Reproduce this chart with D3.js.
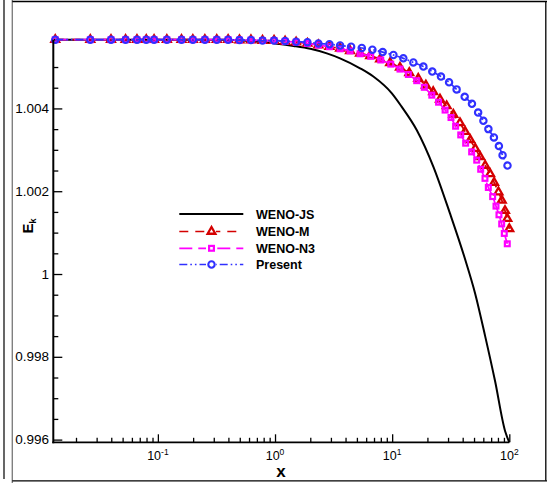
<!DOCTYPE html>
<html>
<head>
<meta charset="utf-8">
<script src="https://cdn.jsdelivr.net/npm/d3@7"></script>
<style>
  body { margin: 0; background: #fff; }
  svg { display: block; }
  text { font-family: "Liberation Sans", Arial, Helvetica, sans-serif; fill: #000; }
</style>
</head>
<body>
<svg id="chart" width="547" height="483"></svg>
<script>
// ---- data -------------------------------------------------------------
const seriesNames = ["WENO-JS", "WENO-M", "WENO-N3", "Present"];

// early output times shared by the three marked series
const earlyX = [0.0133, 0.0265, 0.0398, 0.053, 0.0663, 0.0796, 0.0928, 0.1193, 0.1591,
                0.1989, 0.2519, 0.3182, 0.3978, 0.4972, 0.6232, 0.7823, 0.9812];
const earlyE = [1.00566, 1.00566, 1.00566, 1.00566, 1.00566, 1.00566, 1.00566, 1.00566, 1.00566,
                1.00566, 1.00566, 1.00566, 1.00566, 1.00565, 1.00565, 1.00564, 1.00564];

const wenoJsX = [0.0128, 0.1, 0.3, 0.45, 0.6, 0.75, 1.0, 1.44, 2.0, 2.77, 3.59, 5.32, 6.91,
                 9.9, 12.0, 16.2, 22.5, 31.1, 41.7, 51.2, 62.2, 75.5, 92.0, 100];
const wenoJsE = [1.00566, 1.00566, 1.00566, 1.00565, 1.00563, 1.00560, 1.00557, 1.00551, 1.00544,
                 1.00533, 1.00521, 1.00497, 1.00477, 1.00437, 1.00405, 1.00348, 1.00259, 1.00147,
                 1.00038, 0.99952, 0.99850, 0.99742, 0.99621, 0.995935];

const wenoMX = [1.219, 1.514, 1.891, 2.346, 2.913, 3.594, 4.37, 5.32, 6.49, 7.89, 9.61, 11.66,
                14.0, 16.7, 19.4, 22.4, 25.6, 29.2, 33.3, 37.9, 41.9, 46.4, 51.2, 56.4, 62.2,
                68.6, 74.2, 80.8, 86.3, 91.9, 96.2, 100];
const wenoME = [1.00562, 1.00560, 1.00557, 1.00553, 1.00549, 1.00545, 1.00539, 1.00533, 1.00527,
                1.00519, 1.00510, 1.00499, 1.00486, 1.00472, 1.00456, 1.00440, 1.00422, 1.00406,
                1.00385, 1.00365, 1.00344, 1.00324, 1.00303, 1.00283, 1.00262, 1.00242, 1.00221,
                1.00198, 1.00178, 1.00153, 1.00134, 1.00109];

const wenoN3X = [1.219, 1.514, 1.891, 2.346, 2.913, 3.594, 4.37, 5.32, 6.56, 7.99, 9.73, 11.66,
                 13.75, 16.2, 18.8, 21.8, 24.9, 28.3, 31.8, 34.8, 38.5, 42.4, 47.7, 52.7, 57.0,
                 62.0, 66.2, 72.1, 77.0, 81.6, 86.1, 90.6, 96.1];
const wenoN3E = [1.00562, 1.00560, 1.00557, 1.00553, 1.00549, 1.00544, 1.00539, 1.00532, 1.00526,
                 1.00517, 1.00507, 1.00495, 1.00482, 1.00467, 1.00451, 1.00432, 1.00415, 1.00396,
                 1.00378, 1.00357, 1.00336, 1.00316, 1.00295, 1.00275, 1.00253, 1.00231, 1.00209,
                 1.00187, 1.00164, 1.00143, 1.00121, 1.00098, 1.00073];

const presentX = [1.219, 1.514, 1.891, 2.346, 2.913, 3.594, 4.463, 5.504, 6.78, 8.30, 10.25, 12.46,
                  15.17, 18.47, 22.0, 26.1, 30.6, 35.5, 41.6, 48.0, 54.2, 60.1, 66.3, 73.9, 81.5,
                  87.6, 96.5];
const presentE = [1.00563, 1.00561, 1.00560, 1.00557, 1.00555, 1.00552, 1.00549, 1.00546, 1.00542,
                  1.00536, 1.00529, 1.00521, 1.00511, 1.00501, 1.00489, 1.00477, 1.00463, 1.00446,
                  1.00428, 1.00411, 1.00390, 1.00370, 1.00350, 1.00330, 1.00309, 1.00287, 1.00262];

const xMajorTicks = [0.1, 1, 10, 100];
const xTickExponents = ["-1", "0", "1", "2"];
const yMajorTicks = [0.996, 0.998, 1.0, 1.002, 1.004];
const yTickLabels = ["0.996", "0.998", "1", "1.002", "1.004"];
const xDomain = [0.0128, 100];
const yDomain = [0.995935, 1.00566];

// ---- layout -------------------------------------------------------------
const svg = d3.select("#chart");
const plotLeft = 53.3, plotRight = 509.3, plotTop = 39.7, plotBottom = 442.3;

const x = d3.scaleLog().domain(xDomain).range([plotLeft, plotRight]);
const y = d3.scaleLinear().domain(yDomain).range([plotBottom, plotTop]);

// page frame
svg.append("line").attr("x1", 4).attr("x2", 4).attr("y1", 0).attr("y2", 479)
  .attr("stroke", "#000").attr("stroke-width", 1.2);
svg.append("line").attr("x1", 12.3).attr("x2", 12.3).attr("y1", 0).attr("y2", 483)
  .attr("stroke", "#808080").attr("stroke-width", 1.4);
svg.append("line").attr("x1", 12.3).attr("x2", 547).attr("y1", 1.5).attr("y2", 1.5)
  .attr("stroke", "#000").attr("stroke-width", 1.3);
svg.append("line").attr("x1", 12.3).attr("x2", 547).attr("y1", 480.8).attr("y2", 480.8)
  .attr("stroke", "#000").attr("stroke-width", 1.3);
svg.append("line").attr("x1", 545.8).attr("x2", 545.8).attr("y1", 1.5).attr("y2", 480.8)
  .attr("stroke", "#000").attr("stroke-width", 1.3);

// ---- series ---------------------------------------------------------------
function zipXY(xs, es) { return xs.map((v, i) => ({ x: v, e: es[i] })); }

const series = [
  { name: seriesNames[0], data: zipXY(wenoJsX, wenoJsE), color: "#000000", dash: null, width: 2, marker: null },
  { name: seriesNames[1], data: zipXY(earlyX.concat(wenoMX), earlyE.concat(wenoME)), color: "#d40000", dash: "9,7", width: 1.7, marker: "triangle" },
  { name: seriesNames[2], data: zipXY(earlyX.concat(wenoN3X), earlyE.concat(wenoN3E)), color: "#ff00ff", dash: "13,6", width: 1.7, marker: "square" },
  { name: seriesNames[3], data: zipXY(earlyX.concat(presentX), earlyE.concat(presentE)), color: "#3030ff", dash: "8,3,1.6,3,1.6,3", width: 1.7, marker: "circle" }
];

const line = d3.line().x(d => x(d.x)).y(d => y(d.e)).curve(d3.curveMonotoneX);

function drawMarker(g, kind, color, cx, cy) {
  if (kind === "triangle") {
    g.append("path")
      .attr("d", d3.symbol().type(d3.symbolTriangle).size(26)())
      .attr("transform", `translate(${cx},${cy})`)
      .attr("fill", "none").attr("stroke", color).attr("stroke-width", 2.3)
      .attr("stroke-linejoin", "miter");
  } else if (kind === "square") {
    g.append("rect").attr("x", cx - 2.4).attr("y", cy - 2.4).attr("width", 4.8).attr("height", 4.8)
      .attr("fill", "none").attr("stroke", color).attr("stroke-width", 2.2);
  } else if (kind === "circle") {
    g.append("circle").attr("cx", cx).attr("cy", cy).attr("r", 3.2)
      .attr("fill", "none").attr("stroke", color).attr("stroke-width", 2.1);
  }
}

const plot = svg.append("g");
series.forEach(s => {
  plot.append("path").datum(s.data)
    .attr("d", line)
    .attr("fill", "none")
    .attr("stroke", s.color)
    .attr("stroke-width", s.width)
    .attr("stroke-dasharray", s.dash);
  if (s.marker) {
    const mg = plot.append("g");
    s.data.forEach(d => drawMarker(mg, s.marker, s.color, x(d.x), y(d.e)));
  }
});

// ---- axes ---------------------------------------------------------------
const xMinor = [];
for (let p = -2; p <= 1; p++) for (let m = 2; m <= 9; m++) {
  const v = m * Math.pow(10, p);
  if (v >= xDomain[0] && v <= xDomain[1]) xMinor.push(v);
}
const yMinor = d3.range(0, 18).map(i => 0.9965 + i * 0.0005)
  .filter(v => v <= 1.00501 && yMajorTicks.every(t => Math.abs(t - v) > 1e-7));

const axisStyle = g => {
  g.select(".domain").remove();
  g.selectAll("line").attr("stroke", "#000").attr("stroke-width", 1.3);
  g.selectAll("text").remove();
};

svg.append("g").attr("transform", `translate(0,${plotBottom})`)
  .call(d3.axisTop(x).tickValues(xMinor).tickSize(4.5)).call(axisStyle);
svg.append("g").attr("transform", `translate(0,${plotBottom})`)
  .call(d3.axisTop(x).tickValues(xMajorTicks).tickSize(8)).call(axisStyle);
svg.append("g").attr("transform", `translate(${plotLeft},0)`)
  .call(d3.axisRight(y).tickValues(yMinor).tickSize(5)).call(axisStyle);
svg.append("g").attr("transform", `translate(${plotLeft},0)`)
  .call(d3.axisRight(y).tickValues(yMajorTicks).tickSize(9)).call(axisStyle);

// axis lines
svg.append("line").attr("x1", plotLeft).attr("x2", plotLeft).attr("y1", plotTop).attr("y2", plotBottom + 0.9)
  .attr("stroke", "#000").attr("stroke-width", 2);
svg.append("line").attr("x1", plotLeft - 1).attr("x2", plotRight).attr("y1", plotBottom).attr("y2", plotBottom)
  .attr("stroke", "#000").attr("stroke-width", 1.8);

// tick labels
xMajorTicks.forEach((v, i) => {
  const t = svg.append("text").attr("x", x(v)).attr("y", 460).attr("text-anchor", "middle")
    .attr("font-size", 12.5);
  t.append("tspan").text("10");
  t.append("tspan").attr("dy", -5).attr("font-size", 8.5).text(xTickExponents[i]);
});
yMajorTicks.forEach((v, i) => {
  svg.append("text").attr("x", 49).attr("y", y(v) + 4.6).attr("text-anchor", "end")
    .attr("font-size", 13.5).text(yTickLabels[i]);
});

// axis titles
svg.append("text").attr("x", 281).attr("y", 477).attr("text-anchor", "middle")
  .attr("font-size", 17).attr("font-weight", "bold").text("x");
const yt = svg.append("text").attr("transform", "translate(33,226) rotate(-90)")
  .attr("text-anchor", "middle").attr("font-size", 15).attr("font-weight", "bold");
yt.append("tspan").text("E");
yt.append("tspan").attr("dy", 3).attr("font-size", 9).text("k");

// ---- legend -------------------------------------------------------------
const legendRows = [214, 231.5, 248.3, 264.5];
series.forEach((s, i) => {
  const ly = legendRows[i];
  svg.append("line").attr("x1", 179.3).attr("x2", 243.3).attr("y1", ly).attr("y2", ly)
    .attr("stroke", s.color).attr("stroke-width", s.width).attr("stroke-dasharray", s.dash);
  if (s.marker) {
    const mg = svg.append("g");
    mg.append("rect").attr("x", 206).attr("y", ly - 4).attr("width", 10).attr("height", 8).attr("fill", "#fff");
    drawMarker(mg, s.marker, s.color, 211.5, ly);
  }
  svg.append("text").attr("x", 256).attr("y", ly + 4.6).attr("font-size", 12.5)
    .attr("font-weight", "bold").text(s.name);
});
</script>
</body>
</html>
